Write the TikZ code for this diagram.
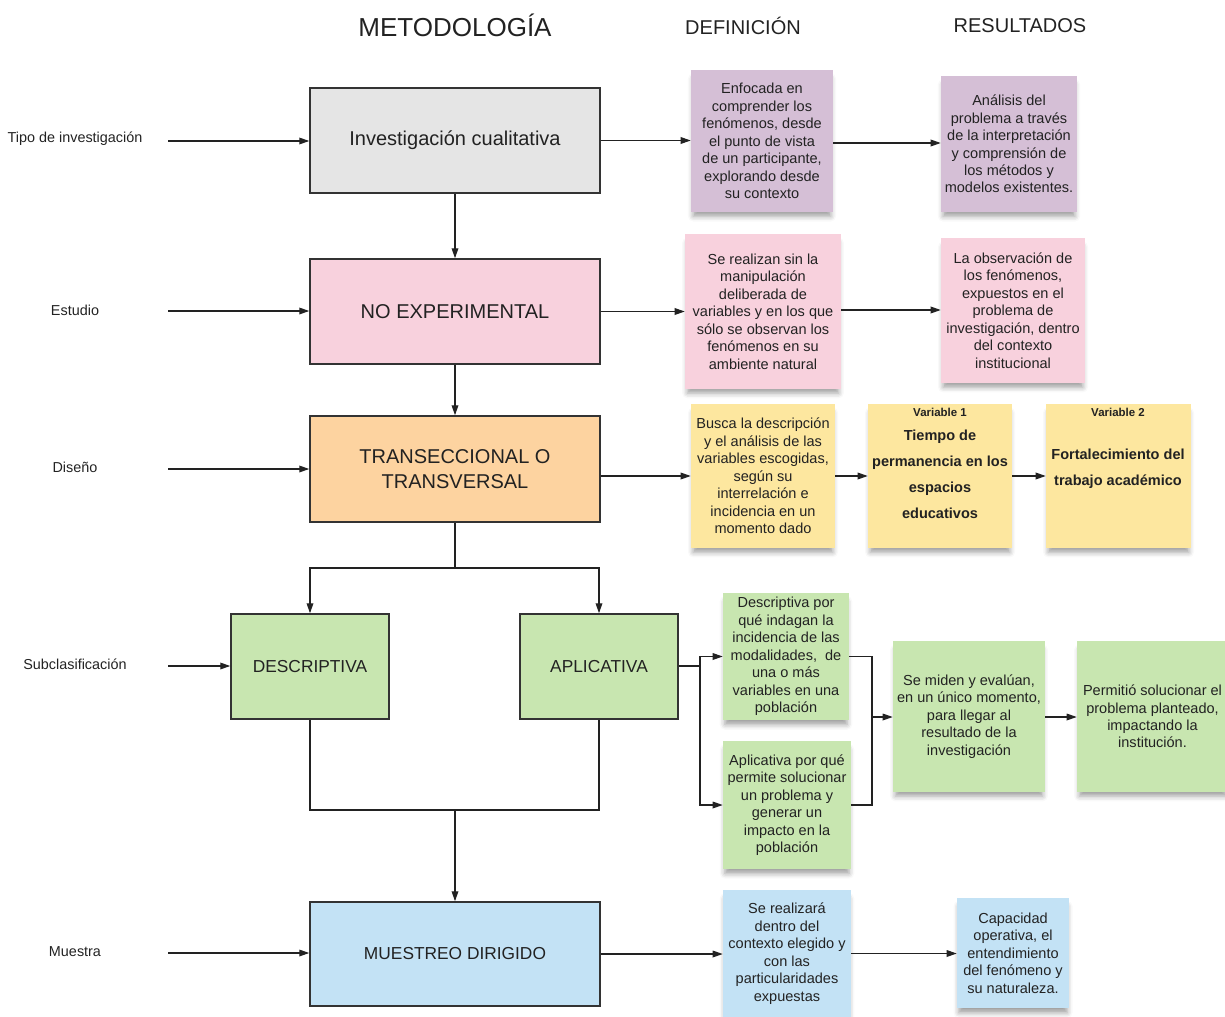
\documentclass[tikz,border=0pt]{standalone}
\usepackage{fontspec}
\setmainfont{Liberation Sans}
\usetikzlibrary{arrows.meta,shadows.blur}

\definecolor{ink}{HTML}{222222}
\definecolor{edge}{HTML}{333333}
\definecolor{cgray}{HTML}{E5E5E5}
\definecolor{cpink}{HTML}{F8D1DD}
\definecolor{cpeach}{HTML}{FDD3A0}
\definecolor{cgreen}{HTML}{C8E6B0}
\definecolor{cblue}{HTML}{C3E2F5}
\definecolor{cpurple}{HTML}{D5BFD6}
\definecolor{cyellow}{HTML}{FDE79F}

\begin{document}
\begin{tikzpicture}[x=0.75pt,y=-0.75pt,
  every node/.style={text=ink},
  size/.style 2 args={minimum width=#1*0.75pt, minimum height=#2*0.75pt},
  header/.style={font=\fontsize{15}{18}\selectfont},
  rowlabel/.style={font=\fontsize{10.8}{13}\selectfont},
  mainbox/.style={draw=edge, line width=1.1pt, inner sep=0pt, align=center,
    font=\fontsize{15}{18.75}\selectfont},
  subbox/.style={mainbox, font=\fontsize{13}{16}\selectfont},
  note/.style={inner sep=0pt, align=center, font=\fontsize{10.9}{13.1}\selectfont,
    blur shadow={shadow xshift=0pt, shadow yshift=-5pt, shadow opacity=38,
      shadow blur radius=4pt, shadow scale=0.97}},
  vartitle/.style={font=\fontsize{8.6}{10}\bfseries\selectfont},
  vartext/.style={align=center, font=\fontsize{10.9}{19.5}\bfseries\selectfont},
  arr/.style={draw=ink, line width=0.9pt, -{Triangle[length=7.5pt,width=5pt]}},
  wire/.style={draw=ink, line width=0.9pt}]

\useasboundingbox (0,0) rectangle (1225,1017);

% column headers
\node[font=\fontsize{19.5}{23}\selectfont] (hmet) at (455,25) {METODOLOGÍA};
\node[header] (hdef) at (743,26) {DEFINICIÓN};
\node[header] (hres) at (1020,26) {RESULTADOS};

% row labels
\node[rowlabel] (l1) at (75,139) {Tipo de investigación};
\node[rowlabel] (l2) at (75,310) {Estudio};
\node[rowlabel] (l3) at (75,467) {Diseño};
\node[rowlabel] (l4) at (75,664) {Subclasificación};
\node[rowlabel] (l5) at (75,952) {Muestra};

\coordinate (s1) at (168,141);
\coordinate (s2) at (168,311);
\coordinate (s3) at (168,469);
\coordinate (s4) at (168,666);
\coordinate (s5) at (168,953);

% methodology column
\node[mainbox, fill=cgray, size={290}{105}] (inv) at (455,140.5) {Investigación cualitativa};
\node[mainbox, fill=cpink, size={290}{105}] (noexp) at (455,311.5) {NO EXPERIMENTAL};
\node[mainbox, fill=cpeach, size={290}{106}] (trans) at (455,469) {TRANSECCIONAL O\\TRANSVERSAL};
\node[subbox, fill=cgreen, size={158}{105}] (desc) at (310,666.5) {DESCRIPTIVA};
\node[subbox, fill=cgreen, size={158}{105}] (apli) at (599,666.5) {APLICATIVA};
\node[subbox, fill=cblue, size={290}{104}] (mues) at (455,954) {MUESTREO DIRIGIDO};

% definition and result notes
\node[note, fill=cpurple, size={142}{142}] (d1) at (762,141)
  {Enfocada en\\comprender los\\fenómenos, desde\\el punto de vista\\de un participante,\\explorando desde\\su contexto};
\node[note, fill=cpurple, size={136}{136}] (r1) at (1009,144)
  {Análisis del\\problema a través\\de la interpretación\\y comprensión de\\los métodos y\\modelos existentes.};

\node[note, fill=cpink, size={156}{155}] (d2) at (763,311.5)
  {Se realizan sin la\\manipulación\\deliberada de\\variables y en los que\\sólo se observan los\\fenómenos en su\\ambiente natural};
\node[note, fill=cpink, size={144}{145}] (r2) at (1013,310.5)
  {La observación de\\los fenómenos,\\expuestos en el\\problema de\\investigación, dentro\\del contexto\\institucional};

\node[note, fill=cyellow, size={144}{144}] (d3) at (763,476)
  {Busca la descripción\\y el análisis de las\\variables escogidas,\\según su\\interrelación e\\incidencia en un\\momento dado};
\node[note, fill=cyellow, size={144}{144}] (v1) at (940,476) {};
\node[note, fill=cyellow, size={145}{144}] (v2) at (1118.5,476) {};
\node[vartitle] (v1t) at (940,412) {Variable 1};
\node[vartext] (v1x) at (940,474) {Tiempo de\\permanencia en los\\espacios\\educativos};
\node[vartitle] (v2t) at (1118,412) {Variable 2};
\node[vartext] (v2x) at (1118,469) {Fortalecimiento del\\trabajo académico};

\node[note, fill=cgreen, size={126}{127}] (d4a) at (786,656.5)
  {Descriptiva por\\qué indagan la\\incidencia de las\\modalidades,\ \ de\\una o más\\variables en una\\población};
\node[note, fill=cgreen, size={128}{128}] (d4b) at (787,805)
  {Aplicativa por qué\\permite solucionar\\un problema y\\generar un\\impacto en la\\población};
\node[note, fill=cgreen, size={152}{151}] (r4) at (969,716.5)
  {Se miden y evalúan,\\en un único momento,\\para llegar al\\resultado de la\\investigación};
\node[note, fill=cgreen, size={151}{151}] (r4b) at (1152.5,716.5)
  {Permitió solucionar el\\problema planteado,\\impactando la\\institución.};

\node[note, fill=cblue, size={128}{127}] (d5) at (787,953.5)
  {Se realizará\\dentro del\\contexto elegido y\\con las\\particularidades\\expuestas};
\node[note, fill=cblue, size={112}{110}] (r5) at (1013,953)
  {Capacidad\\operativa, el\\entendimiento\\del fenómeno y\\su naturaleza.};

% row label arrows
\draw[arr] (s1) -- (s1 -| inv.west);
\draw[arr] (s2) -- (s2 -| noexp.west);
\draw[arr] (s3) -- (s3 -| trans.west);
\draw[arr] (s4) -- (s4 -| desc.west);
\draw[arr] (s5) -- (s5 -| mues.west);

% vertical flow
\draw[arr] (inv.south) -- (noexp.north);
\draw[arr] (noexp.south) -- (trans.north);
\coordinate (j1) at (455,568);
\draw[wire] (trans.south) -- (j1);
\draw[arr] (j1) -| (desc.north);
\draw[arr] (j1) -| (apli.north);
\coordinate (j2) at (455,810);
\draw[wire] (desc.south) |- (apli.south |- j2) -- (apli.south);
\draw[arr] (j2) -- (mues.north);

% horizontal flow
\draw[arr] (inv.east) -- (inv.east -| d1.west);
\draw[arr] (d1.east |- 0,143) -- (r1.west |- 0,143);
\draw[arr] (noexp.east) -- (noexp.east -| d2.west);
\draw[arr] (d2.east |- 0,310) -- (r2.west |- 0,310);
\draw[arr] (trans.east |- d3.west) -- (d3.west);
\draw[arr] (d3.east) -- (v1.west);
\draw[arr] (v1.east) -- (v2.west);

\coordinate (b1) at (700,666);
\draw[wire] (apli.east |- b1) -- (b1);
\draw[arr] (b1) |- (d4a.west);
\draw[arr] (b1) |- (d4b.west);
\coordinate (m1) at (872,717);
\draw[wire] (d4a.east) -| (m1);
\draw[wire] (d4b.east) -| (m1);
\draw[arr] (m1) -- (m1 -| r4.west);
\draw[arr] (r4.east |- m1) -- (r4b.west |- m1);

\draw[arr] (mues.east) -- (mues.east -| d5.west);
\draw[arr] (d5.east) -- (d5.east -| r5.west);
\end{tikzpicture}
\end{document}
